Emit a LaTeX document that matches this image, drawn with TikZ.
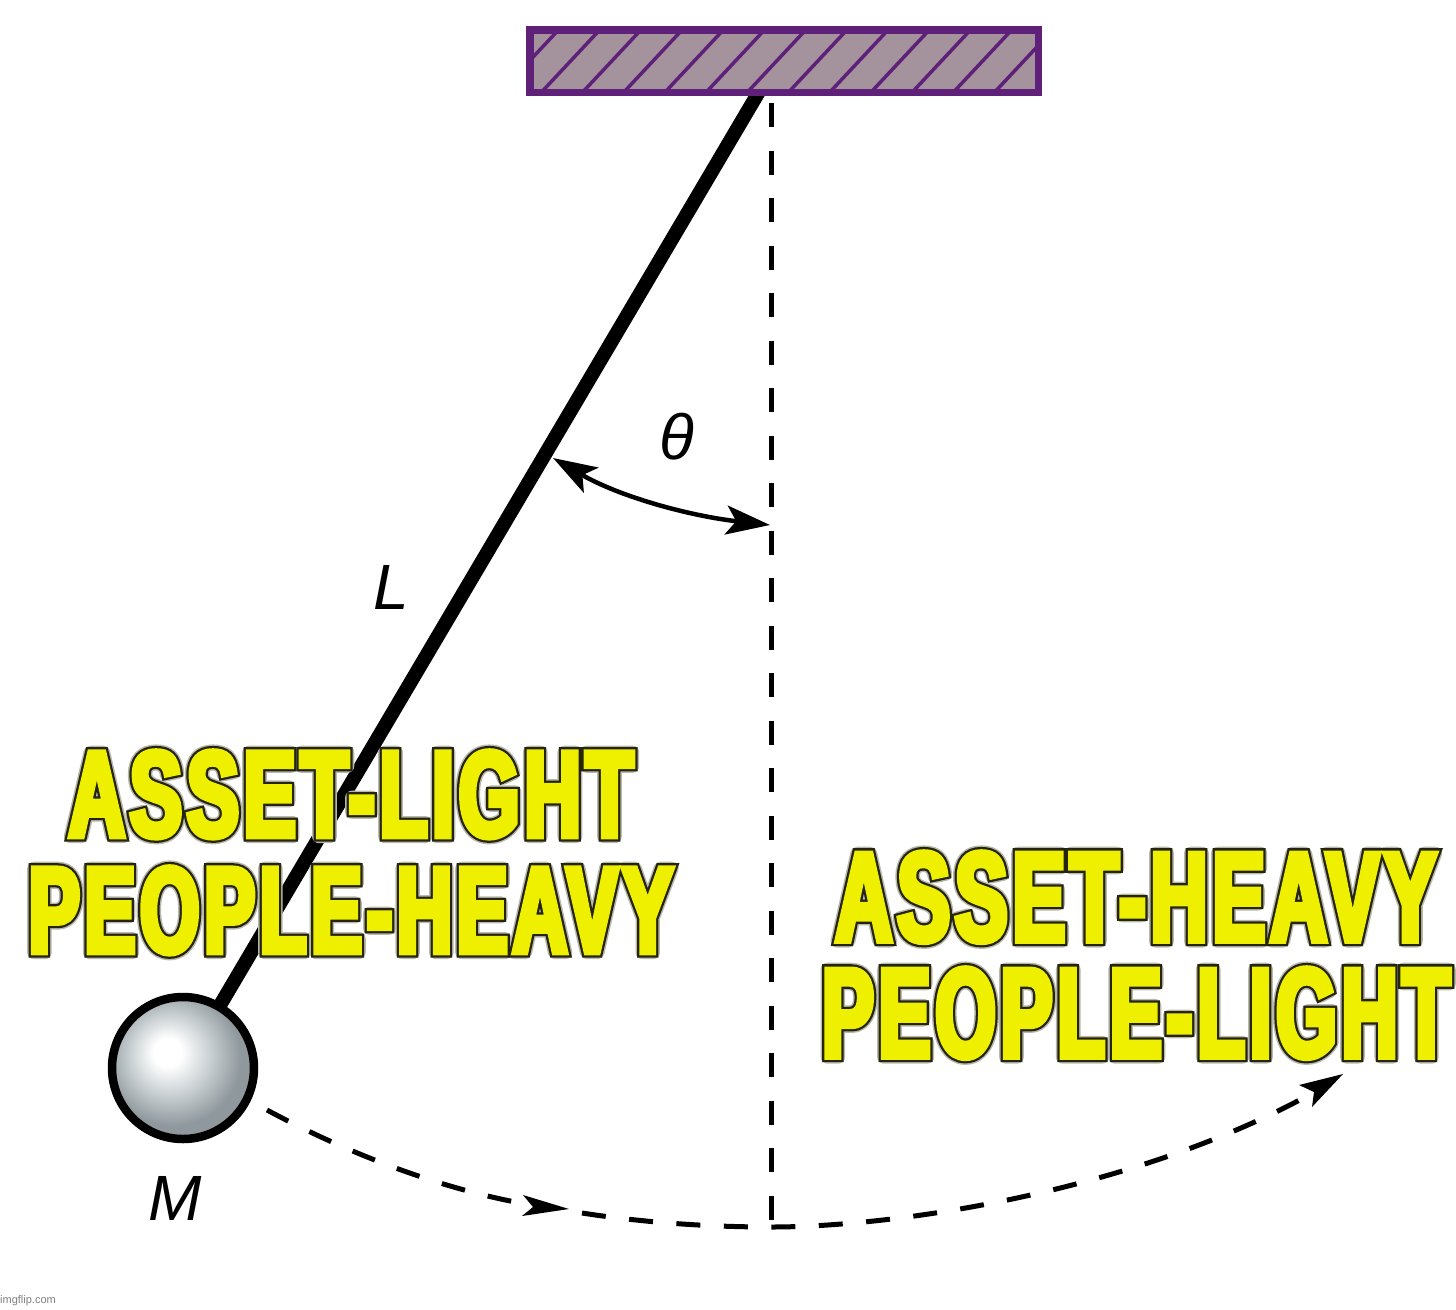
\documentclass[tikz,border=0pt]{standalone}
\usepackage{fontspec}
\usetikzlibrary{arrows.meta}
\setmainfont{Liberation Sans}
\newfontfamily\impactish[LetterSpace=4]{Liberation Sans}
\definecolor{wallpurple}{HTML}{5E2079}
\definecolor{wallfill}{HTML}{A4939C}
\definecolor{memeyellow}{HTML}{EEF000}
\definecolor{ballgrey}{HTML}{8F989D}
\definecolor{ballmid}{HTML}{C4CBCE}
\pgfdeclareradialshading{pendulumball}{\pgfpoint{-6bp}{6bp}}{
  color(0bp)=(white); color(5bp)=(white); color(15bp)=(ballmid); color(24bp)=(ballgrey); color(60bp)=(ballgrey)}
\newcommand{\memeline}[2]{\begingroup
  \setbox0=\hbox{#2}%
  \pgfmathsetmacro\memeratio{(#1-4)/\the\wd0}%
  \edef\memedo{\noexpand\addfontfeature{FakeStretch=\memeratio}}\memedo
  \rlap{\special{pdf:code 2 Tr 1 j 13.5 w 0.72 0.72 0.68 RG}#2}%
  \rlap{\special{pdf:code 2 Tr 0 j 3 M 10.5 w 0.14 0.14 0.06 RG}#2}%
  \special{pdf:code 2 Tr 0 j 3 M 6 w 0.933 0.941 0 RG}#2\special{pdf:code 0 Tr}%
  \endgroup}
\tikzset{
  dashline/.style={line width=5pt,dash pattern=on 24pt off 23.5pt},
  greek/.style={font=\fontsize{64}{64}\selectfont\itshape,text=black,inner sep=0pt},
  memetext/.style={font=\impactish\bfseries\fontsize{#1}{116}\selectfont,text=memeyellow,align=center,inner sep=0pt},
}
\begin{document}
\begin{tikzpicture}[x=1pt,y=-1pt]
\useasboundingbox (0,0) rectangle (1456,1309);
\fill[white] (0,0) rectangle (1456,1309);
\coordinate (rodtop) at (760,90);
\coordinate (ballc) at (183,1068);
\coordinate (pivot) at (771,103);
\coordinate (low) at (771,1227);
\draw[line width=14pt] (rodtop) -- (ballc);
\node[draw=wallpurple,line width=7.5pt,fill=wallfill,minimum width=508.5pt,minimum height=62.5pt,inner sep=0pt] (wall) at (784,61) {};
\begin{scope}
\clip (530,30) rectangle (1038,92);
\foreach \k in {-1,...,12}
  \draw[wallpurple,line width=3.5pt] ({541.6+41.2*\k},92) -- ({541.6+41.2*\k+58},30);
\end{scope}
\node[circle,draw=black,line width=8.5pt,minimum size=142pt,inner sep=0pt,shading=pendulumball] (ball) at (ballc) {};
\draw[dashline] (pivot) -- (low);
\coordinate (swingA) at (267,1110);
\draw[dashline] (swingA) .. controls (360,1160) and (460,1195) .. (545,1207);
\fill (569,1209) -- (523,1195) -- (533,1207) -- (522,1216) -- cycle;
\draw[dashline] (582,1213) .. controls (640,1222) and (705,1227) .. (low) .. controls (900,1227) and (1140,1190) .. (1318,1090);
\fill (1343,1074) -- (1299,1085) -- (1314,1092) -- (1312,1107) -- cycle;
\coordinate (tha) at (553,458);
\coordinate (thb) at (770,525);
\draw[line width=4.5pt,{Stealth[length=44pt,width=29pt,inset=10pt]}-{Stealth[length=44pt,width=29pt,inset=10pt]}] (tha) .. controls (620,497) and (690,516) .. (thb);
\node[greek] (theta) at (677,437) {θ};
\node[greek] (lbl) at (391,587) {L};
\node[greek] (mass) at (175,1198) {M};
\node[font=\fontsize{11}{11}\selectfont,text=black!50,inner sep=0pt] (credit) at (28,1301) {imgflip.com};
\node[memetext=122,anchor=north] (left) at (351,751) {\memeline{551}{ASSET-LIGHT}\\\memeline{628}{PEOPLE-HEAVY}};
\node[memetext=127,anchor=north] (right) at (1136,852) {\memeline{586}{ASSET-HEAVY}\\\memeline{610}{PEOPLE-LIGHT}};
\end{tikzpicture}
\end{document}
